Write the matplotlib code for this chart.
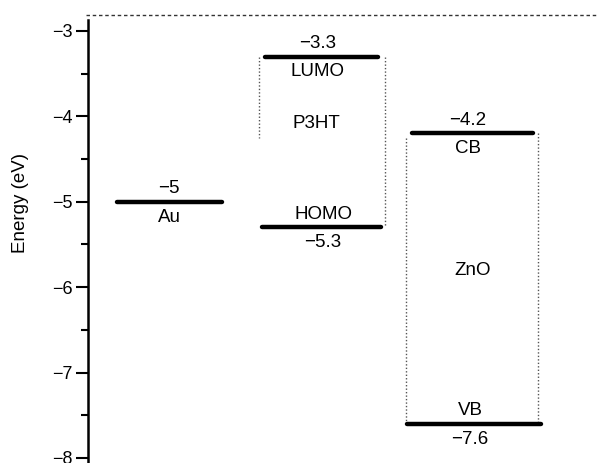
import matplotlib.pyplot as plt
from matplotlib.ticker import MultipleLocator

plt.rcParams['font.family'] = ['Liberation Sans', 'DejaVu Sans']
plt.rcParams['axes.unicode_minus'] = True

# energy levels (eV)
materials = ['Au', 'P3HT', 'ZnO']
level_names = ['Au', 'LUMO', 'HOMO', 'CB', 'VB']
level_values = [-5.0, -3.3, -5.3, -4.2, -7.6]
level_labels = ['\u22125', '\u22123.3', '\u22125.3', '\u22124.2', '\u22127.6']
vacuum = -2.81

# layout (x in axes pixels from the spine)
spans = {'Au': (29, 134), 'LUMO': (177, 290), 'HOMO': (174, 293),
         'CB': (324, 445), 'VB': (319, 453)}
# where the number goes: above or below the bar, and name on the other side
num_above = {'Au': True, 'LUMO': True, 'HOMO': False, 'CB': True, 'VB': False}
text_x = {'Au': 81, 'LUMO': 230, 'HOMO': 235, 'CB': 379.5, 'VB': 382}
up, down = 0.15, 0.18

fig = plt.figure(figsize=(5.98, 4.63), dpi=100)
ax = fig.add_axes([88 / 598, 0, 510 / 598, 1])
ax.set_xlim(0, 510)
ax.set_ylim(-8.06, -2.637)

# dashed vacuum line
ax.plot([-2, 510], [vacuum, vacuum], color='#333333', lw=1,
        linestyle=(0, (2.5, 2)), clip_on=False)

lv = dict(zip(level_names, level_values))
ll = dict(zip(level_names, level_labels))

# dotted boxes
dot = dict(color='#555555', lw=1, linestyle=(0, (1, 1.5)))
ax.plot([171, 171], [lv['LUMO'], -4.25], **dot)
ax.plot([297, 297], [lv['LUMO'], lv['HOMO']], **dot)
ax.plot([318, 318], [lv['CB'] - 0.05, lv['VB']], **dot)
ax.plot([450, 450], [lv['CB'], lv['VB']], **dot)

fs = 13.5
for name in level_names:
    x0, x1 = spans[name]
    y = lv[name]
    ax.plot([x0, x1], [y, y], color='black', lw=3.2, solid_capstyle='round')
    if num_above[name]:
        top, bottom = ll[name], name
    else:
        top, bottom = name, ll[name]
    ax.text(text_x[name], y + up, top, ha='center', va='center', fontsize=fs)
    ax.text(text_x[name], y - down, bottom, ha='center', va='center',
            fontsize=fs)

ax.text(228, -4.08, materials[1], ha='center', va='center', fontsize=fs)
ax.text(385, -5.81, materials[2], ha='center', va='center', fontsize=fs)

for s in ['top', 'right', 'bottom']:
    ax.spines[s].set_visible(False)
ax.spines['left'].set_linewidth(1.8)
ax.spines['left'].set_bounds(-8.06, -2.87)
ax.set_xticks([])
ax.yaxis.set_major_locator(MultipleLocator(1))
ax.yaxis.set_minor_locator(MultipleLocator(0.5))
ax.tick_params(axis='y', which='major', length=8.5, width=1.5, pad=2.5,
               labelsize=13)
ax.tick_params(axis='y', which='minor', length=5, width=1.5)
ax.set_ylabel('Energy (eV)', fontsize=fs)
ax.yaxis.set_label_coords(-0.116, 0.5616)

fig.savefig('out.png', dpi=100)
